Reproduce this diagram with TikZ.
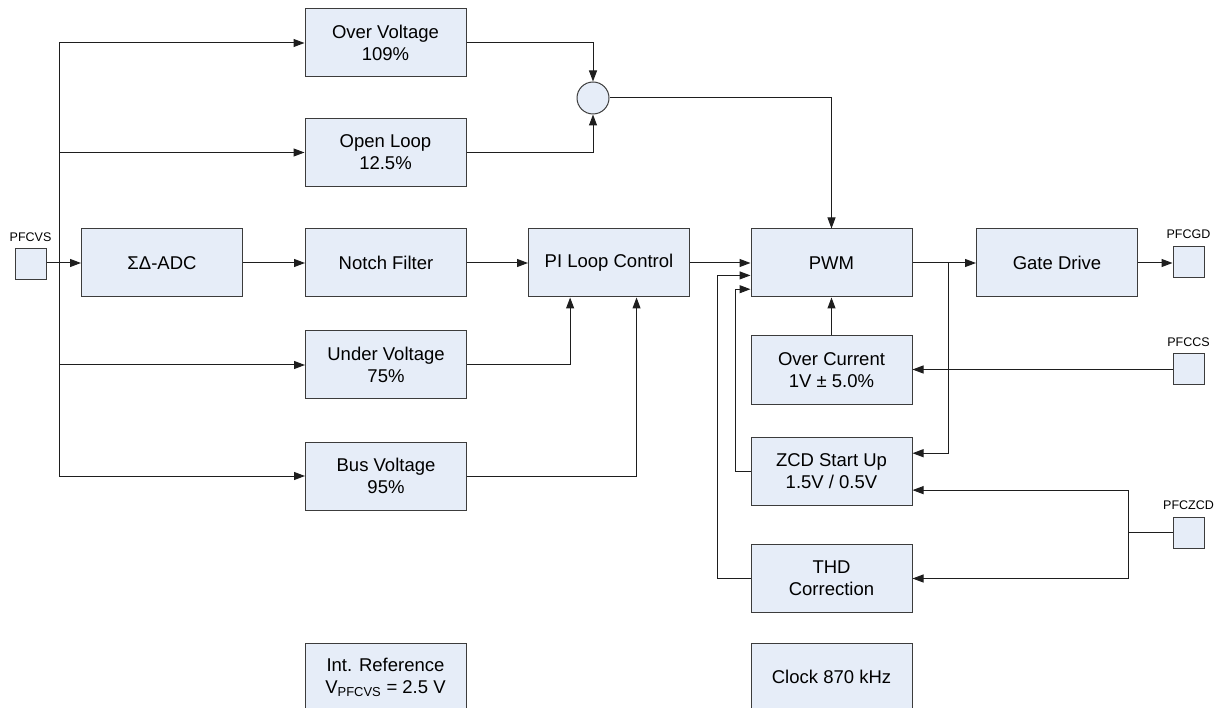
\documentclass[tikz,border=0pt]{standalone}
\usepackage{fontspec}
\setmainfont{Liberation Sans}
\usetikzlibrary{arrows.meta,calc}
\definecolor{boxfill}{RGB}{230,237,248}
\definecolor{boxline}{RGB}{60,60,60}
\definecolor{wire}{RGB}{30,30,30}
\begin{document}
\begin{tikzpicture}[x=1pt,y=-1pt,
  blk/.style={draw=boxline,fill=boxfill,line width=1pt,minimum width=161pt,minimum height=68pt,
    inner sep=0pt,align=center,font=\fontsize{18.5}{22}\selectfont},
  pin/.style={draw=boxline,fill=boxfill,line width=1pt,minimum width=31pt,minimum height=31pt,inner sep=0pt},
  pinlabel/.style={anchor=south,inner sep=0pt,yshift=7pt,font=\fontsize{12.5}{14}\selectfont},
  wirestyle/.style={draw=wire,line width=1pt},
  arr/.style={wirestyle,-{Triangle[length=11pt,width=8pt]}},
  sumnode/.style={circle,draw=boxline,fill=boxfill,line width=1pt,minimum size=32pt,inner sep=0pt}]
\useasboundingbox (0,0) rectangle (1218,708);
\clip (0,0) rectangle (1218,708);
% pins
\node[pin] (pfcvs) at (30.5,264.5) {};
\node[pinlabel] (pfcvsl) at (pfcvs.north) {PFCVS};
\node[pin] (pfcgd) at (1188.5,262) {};
\node[pinlabel] (pfcgdl) at (pfcgd.north) {PFCGD};
\node[pin] (pfccs) at (1188.5,369.5) {};
\node[pinlabel] (pfccsl) at (pfccs.north) {PFCCS};
\node[pin] (pfczcd) at (1188.5,532.5) {};
\node[pinlabel] (pfczcdl) at (pfczcd.north) {PFCZCD};
% blocks
\node[blk] (ov) at (385.5,43) {Over Voltage\\109\%};
\node[blk] (ol) at (385.5,152.5) {Open Loop\\12.5\%};
\node[blk] (adc) at (162,263) {ΣΔ-ADC};
\node[blk] (nf) at (386,263) {Notch Filter};
\node[blk] (pi) at (609,263) {PI Loop Control};
\node[blk] (pwm) at (831.5,263) {PWM};
\node[blk] (gd) at (1057,263) {Gate Drive};
\node[blk] (uv) at (386,365) {Under Voltage\\75\%};
\node[blk] (bv) at (386,476) {Bus Voltage\\95\%};
\node[blk] (oc) at (831.5,370) {Over Current\\1V ± 5.0\%};
\node[blk] (zcd) at (831.5,471.5) {ZCD Start Up\\1.5V / 0.5V};
\node[blk] (thd) at (831.5,578.5) {THD\\Correction};
\node[blk] (ir) at (385.5,677) {Int. Reference\\V\textsubscript{PFCVS} = 2.5 V};
\node[blk] (clk) at (831.5,677) {Clock 870 kHz};
\node[sumnode] (sum) at (593,98) {};
% left bus
\coordinate (bustop) at (59,43);
\coordinate (busbot) at (59,476);
\draw[wirestyle] (bustop) -- (busbot);
\draw[arr] (bustop) -- (ov.west);
\draw[arr] (ol.west -| bustop) -- (ol.west);
\draw[arr] (uv.west -| bustop) -- (uv.west);
\draw[arr] (bv.west -| bustop) -- (bv.west);
\draw[arr] (pfcvs.east |- adc.west) -- (adc.west);
% summing
\draw[arr] (ov.east) -| (sum.north);
\draw[arr] (ol.east) -| (sum.south);
\draw[arr] (sum.east) -| (pwm.north);
% main chain
\draw[arr] (adc) -- (nf);
\draw[arr] (nf) -- (pi);
\draw[arr] (pi) -- (pwm);
\draw[arr] (pwm) -- (gd);
\draw[arr] (gd.east) -- (pfcgd.west |- gd.east);
% PI inputs
\coordinate (pi1) at ($(pi.south west)!0.26!(pi.south east)$);
\coordinate (pi2) at ($(pi.south west)!0.67!(pi.south east)$);
\draw[arr] (uv.east) -| (pi1);
\draw[arr] (bv.east) -| (pi2);
% over current
\draw[arr] (oc.north) -- (pwm.south);
\draw[arr] (pfccs.west) -- (pfccs.west -| oc.east);
% PWM output branch to ZCD
\coordinate (br) at (948,263);
\coordinate (zin1) at ($(zcd.north east)!0.235!(zcd.south east)$);
\draw[arr] (br) |- (zin1);
% PFCZCD
\coordinate (zbus) at (1128,532.5);
\coordinate (zin2) at ($(zcd.north east)!0.77!(zcd.south east)$);
\draw[wirestyle] (pfczcd.west) -- (zbus);
\draw[arr] (zbus) |- (zin2);
\draw[arr] (zbus) |- (thd.east);
% feedback into PWM
\coordinate (pw2) at ($(pwm.north west)!0.68!(pwm.south west)$);
\coordinate (pw3) at ($(pwm.north west)!0.88!(pwm.south west)$);
\coordinate (fb1) at (717,0);
\coordinate (fb2) at (735,0);
\draw[arr] (thd.west) -- (thd.west -| fb1) -- (pw2 -| fb1) -- (pw2);
\draw[arr] (zcd.west) -- (zcd.west -| fb2) -- (pw3 -| fb2) -- (pw3);
\end{tikzpicture}
\end{document}
